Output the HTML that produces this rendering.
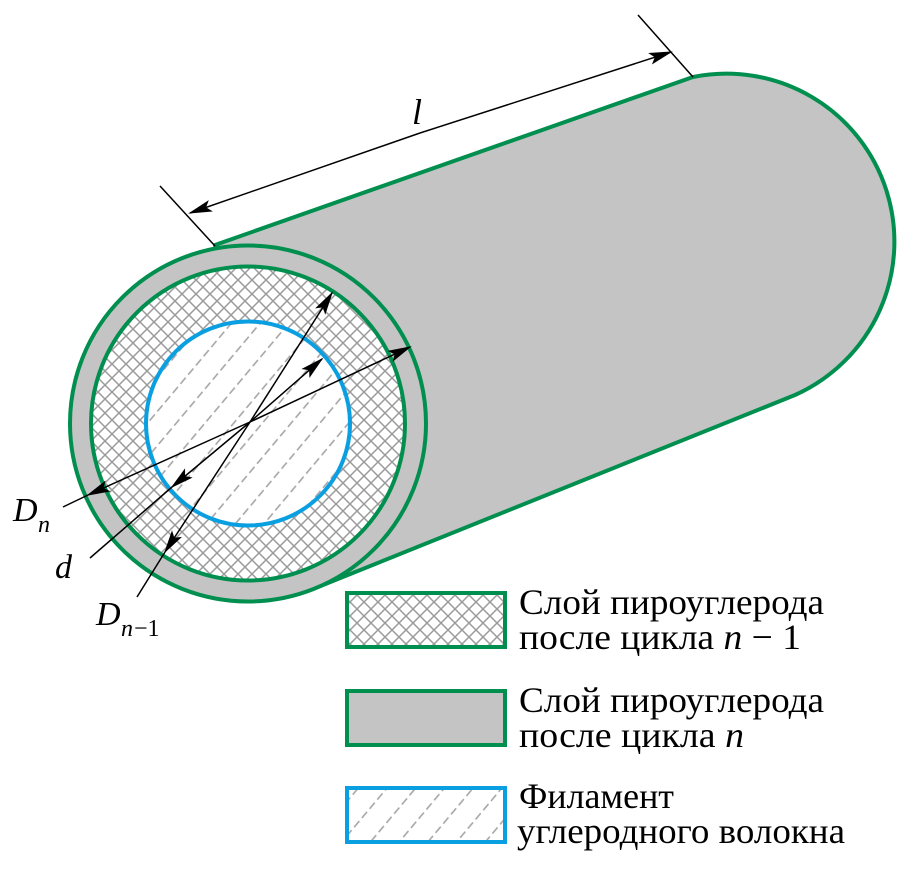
<!DOCTYPE html>
<html><head><meta charset="utf-8"><style>
html,body{margin:0;padding:0;background:#fff;width:917px;height:874px;overflow:hidden}
svg{display:block}
text{font-family:"Liberation Serif",serif;fill:#000}
</style></head><body>
<svg width="917" height="874" viewBox="0 0 917 874" xmlns="http://www.w3.org/2000/svg">
<defs>
<pattern id="cross" patternUnits="userSpaceOnUse" width="14" height="14">
<rect width="14" height="14" fill="#fff"/>
<path d="M0,0 L14,14 M14,0 L0,14" stroke="#9a9a9a" stroke-width="1.5"/>
</pattern>
<pattern id="dash" patternUnits="userSpaceOnUse" width="24" height="22" patternTransform="rotate(-50)">
<rect width="24" height="22" fill="#fff"/>
<path d="M2,11 L10,11 M14,11 L22,11" stroke="#a0a0a0" stroke-width="1.5"/>
</pattern>
<marker id="ar" markerWidth="24" markerHeight="12" refX="22" refY="6" orient="auto" markerUnits="userSpaceOnUse">
<path d="M0,0 L24,6 L0,12 L5,6 Z" fill="#000"/>
</marker>
</defs>
<path d="M248,423 L215,245 L693,77 A168 168 0 0 1 795,395 L318,587 Z" fill="#c4c4c4" stroke="#008f4f" stroke-width="4" stroke-linejoin="round"/>
<circle cx="248" cy="423.5" r="178" fill="#c4c4c4" stroke="#008f4f" stroke-width="4"/>
<circle cx="248" cy="423.5" r="157" fill="url(#cross)" stroke="#008f4f" stroke-width="4"/>
<circle cx="248" cy="423.5" r="102" fill="url(#dash)" stroke="#0a9fe0" stroke-width="4"/>
<line x1="160" y1="186" x2="215" y2="246" stroke="#000" stroke-width="1.5"/>
<line x1="638" y1="15" x2="693" y2="77" stroke="#000" stroke-width="1.5"/>
<line x1="420" y1="133" x2="190" y2="213" stroke="#000" stroke-width="1.5" marker-end="url(#ar)"/>
<line x1="420" y1="133" x2="671" y2="52" stroke="#000" stroke-width="1.5" marker-end="url(#ar)"/>
<text x="412" y="124" font-size="36" font-style="italic">l</text>
<line x1="250" y1="422" x2="410" y2="347" stroke="#000" stroke-width="1.5" marker-end="url(#ar)"/>
<line x1="250" y1="422" x2="88" y2="495" stroke="#000" stroke-width="1.5" marker-end="url(#ar)"/>
<line x1="88" y1="495" x2="63" y2="507" stroke="#000" stroke-width="1.5"/>
<line x1="250" y1="422" x2="332" y2="293" stroke="#000" stroke-width="1.5" marker-end="url(#ar)"/>
<line x1="250" y1="422" x2="165" y2="552" stroke="#000" stroke-width="1.5" marker-end="url(#ar)"/>
<line x1="165" y1="552" x2="137" y2="597" stroke="#000" stroke-width="1.5"/>
<line x1="250" y1="422" x2="322" y2="359" stroke="#000" stroke-width="1.5" marker-end="url(#ar)"/>
<line x1="250" y1="422" x2="172" y2="487" stroke="#000" stroke-width="1.5" marker-end="url(#ar)"/>
<line x1="172" y1="487" x2="90" y2="558" stroke="#000" stroke-width="1.5"/>
<text x="13" y="521" font-size="34" font-style="italic">D</text>
<text x="38" y="532" font-size="24" font-style="italic">n</text>
<text x="55" y="578" font-size="34" font-style="italic">d</text>
<text x="96" y="625" font-size="34" font-style="italic">D</text>
<text x="121" y="636" font-size="24" font-style="italic">n</text>
<text x="134" y="636" font-size="24">−1</text>
<rect x="347" y="593" width="158" height="54" fill="url(#cross)" stroke="#008f4f" stroke-width="4"/>
<rect x="347" y="691" width="158" height="54" fill="#c4c4c4" stroke="#008f4f" stroke-width="4"/>
<rect x="347" y="788" width="158" height="54" fill="url(#dash)" stroke="#0a9fe0" stroke-width="4"/>
<g font-size="36">
<text x="519" y="614" textLength="305" lengthAdjust="spacingAndGlyphs">Слой пироуглерода</text>
<text x="519" y="649" textLength="282" lengthAdjust="spacingAndGlyphs">после цикла  <tspan font-style="italic">n</tspan> − 1</text>
<text x="519" y="712" textLength="305" lengthAdjust="spacingAndGlyphs">Слой пироуглерода</text>
<text x="519" y="747" textLength="225" lengthAdjust="spacingAndGlyphs">после цикла  <tspan font-style="italic">n</tspan></text>
<text x="519" y="808" textLength="155" lengthAdjust="spacingAndGlyphs">Филамент</text>
<text x="517" y="843" textLength="328" lengthAdjust="spacingAndGlyphs">углеродного волокна</text>
</g>
</svg>
</body></html>
